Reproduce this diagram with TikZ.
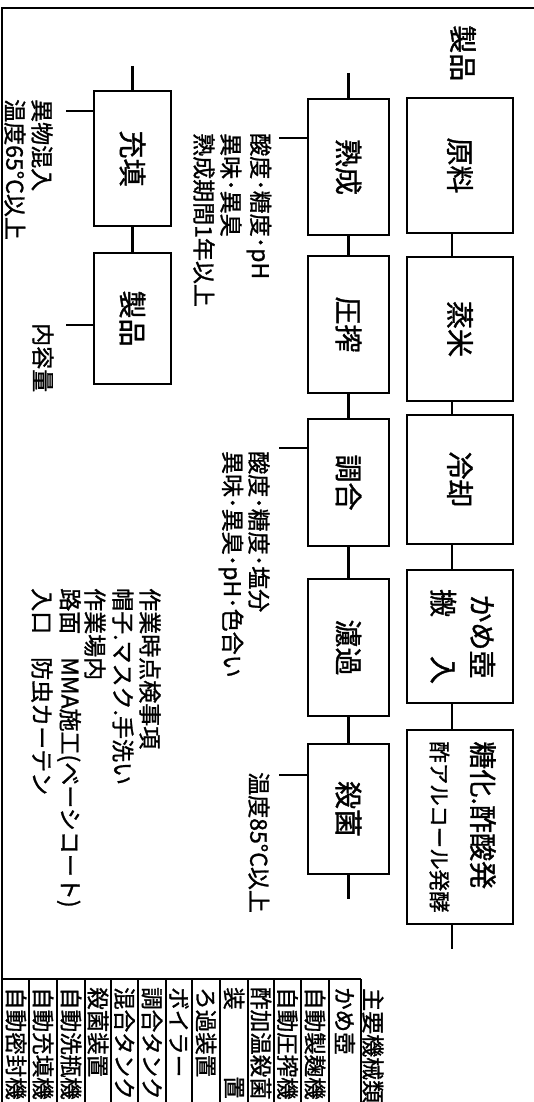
\documentclass[tikz,border=0pt]{standalone}
\usepackage{fontspec}
\usepackage{graphicx}
\newfontfamily\jp[FakeBold=1.2]{Noto Sans CJK JP}
\begin{document}
\begin{tikzpicture}[x=1pt,y=-1pt,
  box/.style={draw, line width=2.4pt, inner sep=0pt, font=\jp\fontsize{28}{39}\selectfont},
  conn/.style={line width=2.4pt},
  note/.style={rotate=-90, anchor=west, inner sep=0pt, font=\jp\fontsize{23}{27}\selectfont},
  cell/.style={rotate=-90, anchor=west, inner sep=0pt, font=\jp\fontsize{22.5}{27}\selectfont},
  ttl/.style={rotate=-90, anchor=west, inner sep=0pt, font=\jp\fontsize{28}{32}\selectfont},
]
\clip (0,0) rectangle (534,1102);
\fill[white] (0,0) rectangle (534,1102);
% outer frame
\draw[conn] (2,1102) -- (2,8) -- (534,8);

% title
\node[ttl] (seihin0) at (463,25) {製品};

% right column
\node[box, minimum width=106pt, minimum height=135pt] (genryo) at (460,165.5) {\rotatebox{-90}{原料}};
\node[box, minimum width=106pt, minimum height=144pt] (jomai) at (460,329) {\rotatebox{-90}{蒸米}};
\node[box, minimum width=106pt, minimum height=129pt] (reikyaku) at (460,479.5) {\rotatebox{-90}{冷却}};
\node[box, minimum width=106pt, minimum height=133pt] (kame) at (460,636.5) {\rotatebox{-90}{\begin{tabular}{@{}c@{}}かめ壺\\搬\hspace{39pt}入\end{tabular}}};
\node[box, minimum width=106pt, minimum height=194pt] (toka) at (460,827) {\rotatebox{-90}{\fontsize{28}{41}\selectfont\begin{tabular}{@{}l@{}}糖化.酢酸発\\{\fontsize{21.5}{41}\selectfont 酢アルコール発酵}\end{tabular}}};
\coordinate (t1) at (452,949);
\draw[conn] ([xshift=-8pt]genryo.south) -- ([xshift=-8pt]jomai.north);
\draw[conn] ([xshift=-8pt]jomai.south) -- ([xshift=-8pt]reikyaku.north);
\draw[conn] ([xshift=-8pt]reikyaku.south) -- ([xshift=-8pt]kame.north);
\draw[conn] ([xshift=-8pt]kame.south) -- ([xshift=-8pt]toka.north);
\draw[conn] ([xshift=-8pt]toka.south) -- (t1);

% middle column
\node[box, minimum width=81pt, minimum height=136pt] (jukusei) at (348.5,167) {\rotatebox{-90}{熟成}};
\node[box, minimum width=81pt, minimum height=137pt] (assaku) at (348.5,324.5) {\rotatebox{-90}{圧搾}};
\node[box, minimum width=81pt, minimum height=127pt] (chogo) at (348.5,482.5) {\rotatebox{-90}{調合}};
\node[box, minimum width=81pt, minimum height=137pt] (roka) at (348.5,647.5) {\rotatebox{-90}{濾過}};
\node[box, minimum width=81pt, minimum height=130pt] (sakkin) at (348.5,809) {\rotatebox{-90}{殺菌}};
\coordinate (t2) at (348.5,73);
\coordinate (t3) at (348.5,899);
\draw[conn] (t2) -- (jukusei.north);
\draw[conn] (jukusei.south) -- (assaku.north);
\draw[conn] (assaku.south) -- (chogo.north);
\draw[conn] (chogo.south) -- (roka.north);
\draw[conn] (roka.south) -- (sakkin.north);
\draw[conn] (sakkin.south) -- (t3);
\coordinate (k1) at (279,138);
\coordinate (k2) at (279,448);
\coordinate (k3) at (279,775);
\draw[conn] (k1) -- (k1 -| jukusei.west);
\draw[conn] (k2) -- (k2 -| chogo.west);
\draw[conn] (k3) -- (k3 -| sakkin.west);

% left column
\node[box, minimum width=77pt, minimum height=135pt] (juten) at (132.5,158.5) {\rotatebox{-90}{充填}};
\node[box, minimum width=77pt, minimum height=131pt] (seihin) at (132.5,318.5) {\rotatebox{-90}{製品}};
\coordinate (t4) at (132.5,66);
\draw[conn] (t4) -- (juten.north);
\draw[conn] (juten.south) -- (seihin.north);
\coordinate (k4) at (66,111);
\coordinate (k5) at (66,325);
\draw[conn] (k4) -- (k4 -| juten.west);
\draw[conn] (k5) -- (k5 -| seihin.west);

% notes
\node[note] (n1a) at (259,133) {酸度･糖度･pH};
\node[note] (n1b) at (231,133) {異味･異臭};
\node[note] (n1c) at (204,133) {熟成期間1年以上};
\node[note] (n2a) at (259,451) {酸度･糖度･塩分};
\node[note] (n2b) at (231,451) {異味･異臭･pH･色合い};
\node[note] (n3a) at (259,772) {温度85°C以上};
\node[note] (n4a) at (42,99) {異物混入};
\node[note] (n4b) at (15,99) {温度65°C以上};
\node[note] (n5a) at (43,323) {内容量};
\node[note] (m1) at (150,588) {作業時点検事項};
\node[note] (m2) at (123,588) {帽子.マスク.手洗い};
\node[note] (m3) at (95,588) {作業場内};
\node[note] (m4) at (69,588) {路面　MMA施工(ベーシコート)};
\node[note] (m5) at (42,588) {入口　防虫カーテン};

% equipment table
\node[note] (eqh) at (373,988) {主要機械類};
\draw[conn] (2,979) -- (361,979);
\foreach \xx in {29,57,85,111,138,166,192,220,248,274,301,329,361}
  \draw[conn] (\xx,979) -- (\xx,1102);
\node[cell] (e1) at (345,987) {かめ壺};
\node[cell] (e2) at (315,987) {自動製麹機};
\node[cell] (e3) at (287.5,987) {自動圧搾機};
\node[cell] (e4) at (261,987) {酢加温殺菌};
\node[cell] (e5) at (234,987) {装};
\node[cell] (e5b) at (234,1076) {置};
\node[cell] (e6) at (206,987) {ろ過装置};
\node[cell] (e7) at (179,987) {ボイラー};
\node[cell] (e8) at (152,987) {調合タンク};
\node[cell] (e9) at (124.5,987) {混合タンク};
\node[cell] (e10) at (98,987) {殺菌装置};
\node[cell] (e11) at (71,987) {自動洗瓶機};
\node[cell] (e12) at (43,987) {自動充填機};
\node[cell] (e13) at (16,987) {自動密封機};
\end{tikzpicture}
\end{document}
